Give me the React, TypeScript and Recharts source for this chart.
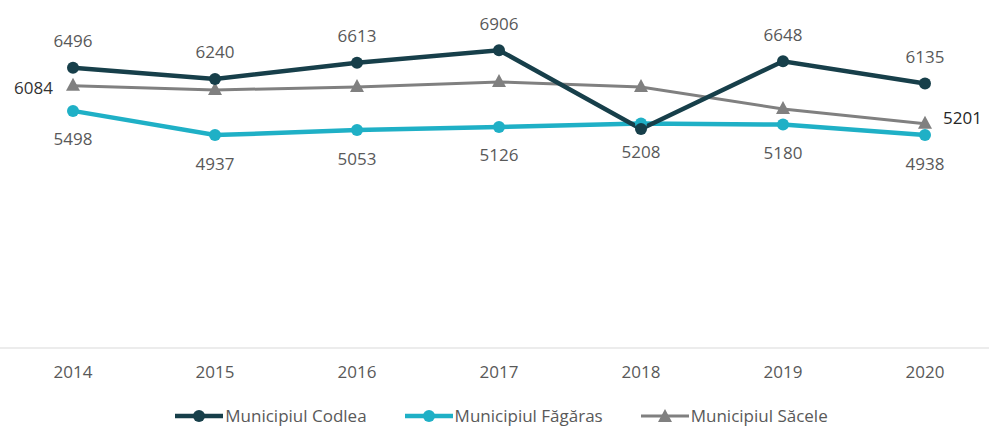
import { LineChart, Line, XAxis, YAxis, Legend, LabelList } from "recharts";

const years = ["2014", "2015", "2016", "2017", "2018", "2019", "2020"];
const codlea = [6496, 6240, 6613, 6906, 5080, 6648, 6135];
const fagaras = [5498, 4937, 5053, 5126, 5208, 5180, 4938];
const sacele = [6084, 5983, 6053, 6169, 6053, 5542, 5201];

const C_CODLEA = "#173f4a";
const C_FAGARAS = "#1fb0c6";
const C_SACELE = "#808080";
const FONT = "'Open Sans', sans-serif";

const data = years.map((year, i) => ({
  year,
  codlea: codlea[i],
  fagaras: fagaras[i],
  sacele: sacele[i],
}));

const Triangle = (props: any) => {
  const { cx, cy } = props;
  if (cx == null || cy == null) return null;
  return <polygon points={`${cx},${cy - 8} ${cx + 7},${cy + 5} ${cx - 7},${cy + 5}`} fill={C_SACELE} />;
};

const aboveLabel = (props: any) => {
  const { x, y, value, index } = props;
  if (index === 4) return null;
  return (
    <text x={x} y={y - 27} textAnchor="middle" dominantBaseline="central" fill="#595959" fontSize={17} fontFamily={FONT}>
      {value}
    </text>
  );
};

const belowLabel = (props: any) => {
  const { x, y, value } = props;
  return (
    <text x={x} y={y + 28} textAnchor="middle" dominantBaseline="central" fill="#595959" fontSize={17} fontFamily={FONT}>
      {value}
    </text>
  );
};

const saceleLabel = (props: any) => {
  const { x, y, value, index } = props;
  if (index === 0)
    return (
      <text x={x - 20} y={y + 2} textAnchor="end" dominantBaseline="central" fill="#333" fontSize={17} fontFamily={FONT}>
        {value}
      </text>
    );
  if (index === years.length - 1)
    return (
      <text x={x + 18} y={y - 6} textAnchor="start" dominantBaseline="central" fill="#262626" fontSize={17} fontFamily={FONT}>
        {value}
      </text>
    );
  return null;
};

const legendItems = [
  { name: "Municipiul Codlea", color: C_CODLEA, shape: "circle", width: 4.5 },
  { name: "Municipiul Făgăras", color: C_FAGARAS, shape: "circle", width: 4.5 },
  { name: "Municipiul Săcele", color: C_SACELE, shape: "triangle", width: 3 },
];

const renderLegend = () => (
  <div
    style={{
      display: "flex",
      justifyContent: "center",
      paddingTop: 27,
      paddingLeft: 14,
      height: 21,
      fontFamily: FONT,
      fontSize: 17,
      lineHeight: "21px",
      color: "#595959",
    }}
  >
    {legendItems.map((it, i) => (
      <div key={it.name} style={{ display: "flex", alignItems: "center", marginRight: i < legendItems.length - 1 ? 38 : 0, height: 21 }}>
        <svg width={48} height={16} style={{ marginRight: 2 }}>
          <line x1={0} y1={8} x2={48} y2={8} stroke={it.color} strokeWidth={it.width} />
          {it.shape === "circle" ? (
            <circle cx={24} cy={8} r={6} fill={it.color} />
          ) : (
            <polygon points="24,1 31,14 17,14" fill={it.color} />
          )}
        </svg>
        <span>{it.name}</span>
      </div>
    ))}
  </div>
);

export default function App() {
  return (
    <div style={{ position: "absolute", left: 0, top: 0, background: "#fff" }}>
      <LineChart width={989} height={426} data={data} margin={{ top: 3, right: 0, bottom: 0, left: 0 }} style={{ fontFamily: FONT }}>
        <XAxis
          dataKey="year"
          padding={{ left: 73, right: 64 }}
          tickLine={false}
          tickMargin={12}
          height={30}
          axisLine={{ stroke: "#d9d9d9", strokeWidth: 1 }}
          tick={{ fill: "#595959", fontSize: 17, fontFamily: FONT }}
        />
        <YAxis hide domain={[0, 8000]} />
        <Legend verticalAlign="bottom" height={48} content={renderLegend} />
        <Line
          dataKey="sacele"
          stroke={C_SACELE}
          strokeWidth={3}
          dot={<Triangle />}
          activeDot={false}
          isAnimationActive={false}
        >
          <LabelList dataKey="sacele" content={saceleLabel} />
        </Line>
        <Line
          dataKey="fagaras"
          stroke={C_FAGARAS}
          strokeWidth={4.5}
          dot={{ r: 6, fill: C_FAGARAS, stroke: C_FAGARAS, strokeWidth: 0 }}
          activeDot={false}
          isAnimationActive={false}
        >
          <LabelList dataKey="fagaras" content={belowLabel} />
        </Line>
        <Line
          dataKey="codlea"
          stroke={C_CODLEA}
          strokeWidth={4.5}
          dot={{ r: 6, fill: C_CODLEA, stroke: C_CODLEA, strokeWidth: 0 }}
          activeDot={false}
          isAnimationActive={false}
        >
          <LabelList dataKey="codlea" content={aboveLabel} />
        </Line>
      </LineChart>
    </div>
  );
}
